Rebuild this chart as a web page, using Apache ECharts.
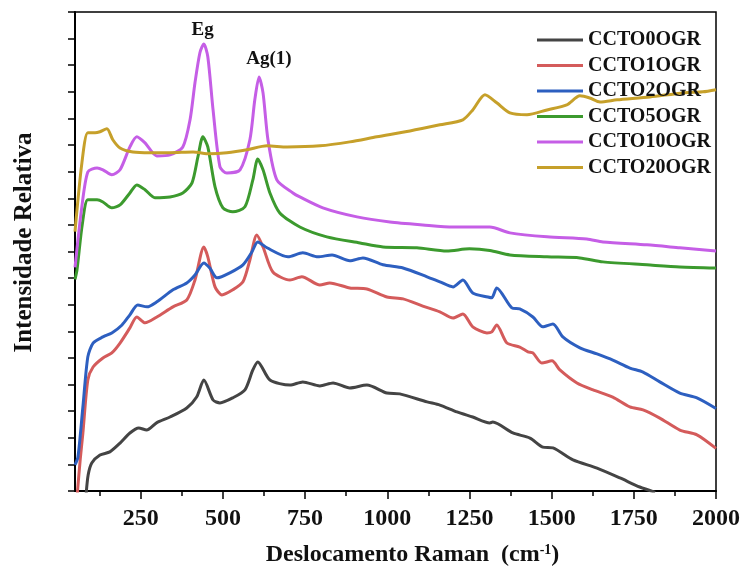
<!DOCTYPE html>
<html>
<head>
<meta charset="utf-8">
<script src="https://cdn.jsdelivr.net/npm/echarts@6/dist/echarts.min.js"></script>
<style>
  html, body { margin: 0; padding: 0; background: #fff; }
  #chart { width: 745px; height: 577px; }
</style>
</head>
<body>
<div id="chart"></div>
<script>
// Raman spectra, [shift cm-1, relative intensity (offset units)]
const cc0 = [[84,-0.1],[90,0.6],[101,1.05],[126,1.35],[156,1.47],[187,1.8],[217,2.18],[244,2.37],[268,2.29],[298,2.56],[339,2.78],[390,3.12],[420,3.53],[442,4.17],[470,3.42],[491,3.31],[530,3.5],[567,3.8],[591,4.55],[606,4.85],[643,4.17],[704,3.98],[743,4.1],[795,3.95],[835,4.06],[886,3.87],[938,3.98],[999,3.68],[1038,3.65],[1121,3.35],[1160,3.23],[1212,2.97],[1260,2.78],[1312,2.56],[1321,2.59],[1382,2.18],[1434,1.99],[1473,1.65],[1504,1.62],[1565,1.17],[1638,0.86],[1708,0.49],[1768,0.15],[1815,-0.05]]
const cc1 = [[57,-0.1],[66,1.2],[74,2.18],[89,4.17],[105,4.66],[135,5.0],[162,5.19],[187,5.56],[217,6.13],[238,6.54],[263,6.32],[299,6.54],[348,6.92],[390,7.18],[415,7.93],[442,9.17],[454,8.8],[476,7.67],[497,7.37],[530,7.56],[561,7.86],[582,8.68],[603,9.62],[622,9.17],[652,8.23],[704,7.93],[740,8.05],[795,7.74],[825,7.82],[886,7.63],[938,7.59],[999,7.29],[1048,7.22],[1108,6.95],[1160,6.73],[1200,6.5],[1230,6.65],[1260,6.17],[1303,5.94],[1318,5.98],[1333,6.24],[1364,5.56],[1403,5.41],[1428,5.23],[1443,5.19],[1470,4.81],[1501,4.89],[1525,4.55],[1577,4.06],[1626,3.8],[1686,3.53],[1738,3.16],[1778,3.05],[1829,2.74],[1890,2.29],[1942,2.11],[2000,1.6]]
const cc2 = [[50,0.98],[59,1.28],[74,3.16],[89,5.04],[105,5.56],[135,5.79],[162,5.94],[193,6.24],[217,6.62],[241,6.99],[269,6.92],[299,7.11],[348,7.56],[390,7.82],[415,8.12],[442,8.57],[460,8.38],[482,8.01],[521,8.2],[561,8.5],[588,8.98],[606,9.36],[634,9.14],[698,8.8],[743,8.95],[789,8.8],[832,8.87],[886,8.65],[926,8.76],[987,8.5],[1048,8.38],[1121,8.05],[1160,7.86],[1200,7.67],[1230,7.93],[1260,7.44],[1306,7.29],[1318,7.26],[1333,7.63],[1379,6.88],[1403,6.84],[1443,6.54],[1473,6.17],[1504,6.28],[1534,5.79],[1586,5.38],[1638,5.15],[1686,4.92],[1738,4.62],[1778,4.47],[1829,4.1],[1890,3.68],[1942,3.5],[2000,3.1]]
const cc5 = [[50,7.95],[56,8.3],[72,10.0],[89,10.94],[117,10.94],[135,10.86],[162,10.64],[187,10.75],[217,11.2],[238,11.5],[263,11.32],[293,11.02],[339,11.05],[378,11.2],[406,11.58],[424,12.56],[439,13.31],[454,12.93],[476,11.43],[500,10.64],[530,10.49],[567,10.68],[591,11.69],[606,12.48],[622,12.07],[643,11.2],[673,10.45],[734,9.92],[816,9.55],[917,9.32],[987,9.17],[1090,9.14],[1181,9.02],[1250,9.1],[1312,9.04],[1373,8.87],[1486,8.8],[1586,8.76],[1656,8.61],[1790,8.5],[1890,8.42],[2000,8.38]]
const cc10 = [[50,8.4],[70,10.6],[89,11.99],[117,12.14],[135,12.07],[162,11.88],[187,12.07],[217,12.93],[238,13.31],[263,13.08],[299,12.59],[339,12.63],[378,12.93],[400,13.95],[415,15.34],[430,16.47],[442,16.8],[454,16.32],[470,14.32],[491,12.18],[512,11.95],[552,12.07],[582,13.2],[597,14.7],[610,15.56],[622,14.96],[637,13.2],[664,11.69],[713,11.2],[734,11.05],[804,10.64],[908,10.3],[1008,10.11],[1108,10.0],[1200,9.92],[1312,9.92],[1373,9.7],[1486,9.55],[1607,9.47],[1656,9.36],[1790,9.25],[1890,9.14],[2000,9.02]]
const cc20 = [[50,9.75],[71,12.33],[89,13.46],[111,13.46],[126,13.5],[147,13.61],[165,13.2],[187,12.89],[226,12.74],[278,12.71],[339,12.71],[409,12.74],[460,12.67],[512,12.71],[573,12.82],[634,12.97],[695,12.93],[795,12.97],[886,13.12],[968,13.31],[1069,13.53],[1160,13.76],[1230,13.95],[1260,14.32],[1297,14.89],[1333,14.59],[1373,14.21],[1425,14.14],[1486,14.32],[1546,14.51],[1586,14.85],[1616,14.77],[1647,14.62],[1699,14.7],[1799,14.81],[1899,14.96],[1960,15.0],[2000,15.08]]

const names = ['CCTO0OGR', 'CCTO1OGR', 'CCTO2OGR', 'CCTO5OGR', 'CCTO10OGR', 'CCTO20OGR']
const colors = ['#444444', '#d45b5b', '#2d5fc0', '#3c9a2e', '#c55ee6', '#c6a02a']
const majorTicks = [250, 500, 750, 1000, 1250, 1500, 1750, 2000]
const minorTicks = [125, 375, 625, 875, 1125, 1375, 1625, 1875]
// band labels: [x, y, text]
const bands = [[438, 17.33, 'Eg'], [640, 16.24, 'Ag(1)']]

const serif = 'Liberation Serif'
const chart = echarts.init(document.getElementById('chart'))
const spectra = [cc0, cc1, cc2, cc5, cc10, cc20]

const series = spectra.map(function(d, i) {
  return {
    name: names[i],
    type: 'line',
    data: d,
    symbol: 'none',
    smooth: 0.25,
    clip: true,
    lineStyle: { width: 3, color: colors[i] },
    itemStyle: { color: colors[i] }
  }
})
series[4].markPoint = {
  symbol: 'circle',
  symbolSize: 0,
  silent: true,
  label: {
    show: true,
    position: 'inside',
    formatter: '{b}',
    color: '#111',
    fontSize: 19,
    fontWeight: 'bold',
    fontFamily: serif
  },
  data: bands.map(function(b) { return { name: b[2], coord: [b[0], b[1]] } })
}

chart.setOption({
  animation: false,
  legend: {
    orient: 'vertical',
    left: 532,
    top: 25,
    icon: 'rect',
    itemWidth: 46,
    itemHeight: 3,
    itemGap: 5.5,
    selectedMode: false,
    data: names,
    textStyle: { fontSize: 20, fontWeight: 'bold', fontFamily: serif, color: '#111' }
  },
  grid: {
    left: 75,
    right: 29,
    top: 12,
    bottom: 86,
    show: true,
    borderColor: '#000',
    borderWidth: 1.5
  },
  xAxis: [
    {
      type: 'value',
      min: 50,
      max: 2000,
      name: 'Deslocamento Raman  (cm{s|-1})',
      nameLocation: 'middle',
      nameGap: 52,
      nameTextStyle: {
        fontSize: 24,
        fontWeight: 'bold',
        fontFamily: serif,
        color: '#111',
        padding: [0, 0, 0, 34],
        rich: {
          s: { fontSize: 14, fontWeight: 'bold', fontFamily: serif, color: '#111', verticalAlign: 'top', padding: [0, 0, 10, 0] }
        }
      },
      axisLine: { lineStyle: { color: '#000', width: 2 } },
      axisTick: { inside: false, length: 8, lineStyle: { color: '#000', width: 1.5 }, customValues: majorTicks },
      axisLabel: {
        customValues: majorTicks,
        formatter: function(v) { return String(v) },
        margin: 16,
        fontSize: 24,
        fontWeight: 'bold',
        fontFamily: serif,
        color: '#111'
      },
      splitLine: { show: false }
    },
    {
      type: 'value',
      min: 50,
      max: 2000,
      position: 'bottom',
      axisLine: { show: false },
      axisTick: { inside: false, length: 5, lineStyle: { color: '#000', width: 1.5 }, customValues: minorTicks },
      axisLabel: { show: false },
      splitLine: { show: false }
    }
  ],
  yAxis: {
    type: 'value',
    min: 0,
    max: 18,
    interval: 1,
    name: 'Intensidade Relativa',
    nameLocation: 'middle',
    nameGap: 38,
    nameTextStyle: { fontSize: 25, fontWeight: 'bold', fontFamily: serif, color: '#111', padding: [0, 0, 0, 18] },
    axisLine: { lineStyle: { color: '#000', width: 2 } },
    axisTick: { inside: false, length: 7, lineStyle: { color: '#000', width: 1.5 } },
    axisLabel: { show: false },
    splitLine: { show: false }
  },
  series: series
})
</script>
</body>
</html>
